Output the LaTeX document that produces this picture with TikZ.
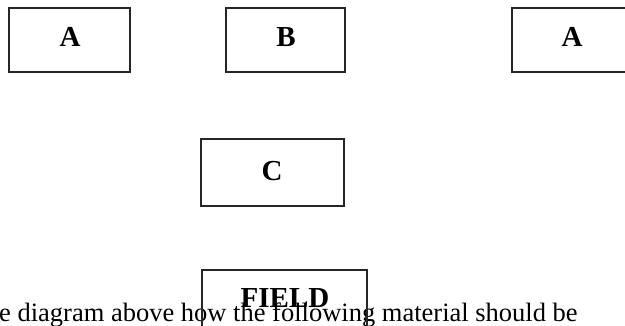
\documentclass[tikz,border=0pt]{standalone}
\usepackage{fontspec}
\setmainfont{Liberation Serif}
\begin{document}
\begin{tikzpicture}[x=1pt,y=-1pt,
  boxstyle/.style={draw=black!85,line width=1.9pt},
  lbl/.style={font=\fontsize{29}{32}\selectfont\bfseries,inner sep=0pt,anchor=base},
  body/.style={font=\fontsize{26.5}{30}\selectfont,inner sep=0pt,anchor=base west}]
\useasboundingbox (0,0) rectangle (625,326);
\clip (0,0) rectangle (625,326);
% text line
\node[body] (txt) at (-1,322) {e diagram above how the following material should be};
% boxes
\draw[boxstyle] (9,8) rectangle (130,72);
\node[lbl] (a1) at (70,47) {A};
\draw[boxstyle] (226,8) rectangle (345,72);
\node[lbl] (b) at (286,47) {B};
\draw[boxstyle] (512,8) rectangle (640,72);
\node[lbl] (a2) at (572,47) {A};
\draw[boxstyle] (201,139) rectangle (344,206);
\node[lbl] (c) at (272,181) {C};
\draw[boxstyle] (202,270) rectangle (367,340);
\node[lbl] (field) at (285,308) {FIELD};
\end{tikzpicture}
\end{document}
